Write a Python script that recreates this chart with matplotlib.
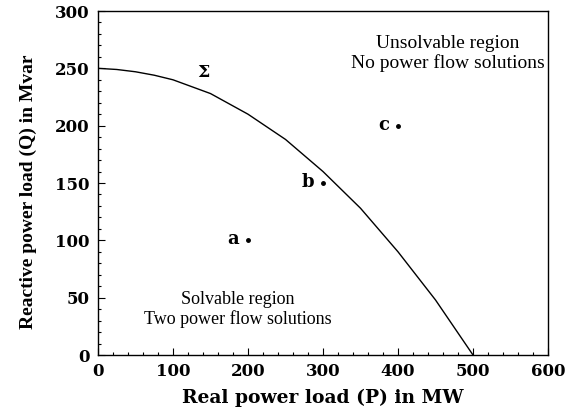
import matplotlib
matplotlib.use("Agg")
import matplotlib.pyplot as plt
from matplotlib.ticker import MultipleLocator

# Boundary curve Sigma
P_curve = [0, 25, 50, 75, 100, 125, 150, 175, 200, 225, 250, 275, 300,
           325, 350, 375, 400, 425, 450, 475, 500]
Q_curve = [250, 249, 247, 244, 240, 234, 228, 219, 210, 199, 188, 174, 160,
           144, 128, 109, 90, 69, 48, 24, 0]

# Operating points
pt_names = ["a", "b", "c"]
pt_P = [200, 300, 400]
pt_Q = [100, 150, 200]

fig = plt.figure(figsize=(5.66, 4.17), dpi=100)
ax = fig.add_axes([98/566, 62/417, 450/566, 344/417])

ax.plot(P_curve, Q_curve, color="black", linewidth=1.0)
ax.plot(pt_P, pt_Q, "o", color="black", markersize=2.5)

# labels sit to the left of each dot
for name, p, q in zip(pt_names, pt_P, pt_Q):
    ax.text(p - 12, q + 1, name, ha="right", va="center", fontsize=13,
            family="DejaVu Serif", fontweight="bold")

ax.text(140, 246, "Σ", ha="center", va="center", fontsize=12.5,
        family="DejaVu Serif", fontweight="bold")

ax.text(466, 263, "Unsolvable region\nNo power flow solutions", ha="center", va="center",
        fontsize=14, family="Liberation Serif", linespacing=1.2)
ax.text(186, 40, "Solvable region\nTwo power flow solutions", ha="center", va="center",
        fontsize=13, family="Liberation Serif", linespacing=1.15)

ax.set_xlim(0, 600)
ax.set_ylim(0, 300)
ax.xaxis.set_major_locator(MultipleLocator(100))
ax.xaxis.set_minor_locator(MultipleLocator(20))
ax.yaxis.set_major_locator(MultipleLocator(50))
ax.yaxis.set_minor_locator(MultipleLocator(10))
ax.tick_params(which="both", direction="in", top=False, right=False, width=0.8)
ax.tick_params(which="major", length=5, labelsize=12, pad=6)
ax.tick_params(which="minor", length=2.5)
for lbl in ax.get_xticklabels() + ax.get_yticklabels():
    lbl.set_family("DejaVu Serif")
    lbl.set_fontweight("bold")

for s in ax.spines.values():
    s.set_linewidth(1.0)

ax.set_xlabel("Real power load (P) in MW", fontsize=13.5, family="DejaVu Serif",
              fontweight="bold", labelpad=6)
ax.set_ylabel("Reactive power load (Q) in Mvar", fontsize=14, family="Liberation Serif",
              fontweight="bold")
ax.yaxis.set_label_coords(-0.135, 0.475)

fig.savefig("out.png", dpi=100)
